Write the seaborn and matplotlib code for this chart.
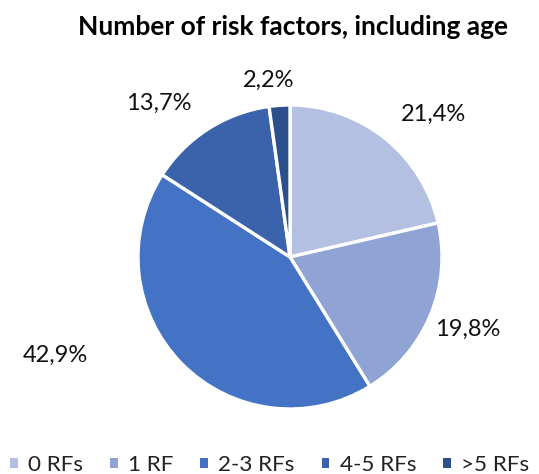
import matplotlib
matplotlib.use("Agg")
import matplotlib.pyplot as plt
import seaborn as sns
import numpy as np
from matplotlib.patches import Patch

categories = ["0 RFs", "1 RF", "2-3 RFs", "4-5 RFs", ">5 RFs"]
values = [21.4, 19.8, 42.9, 13.7, 2.2]
colors = ["#B4C0E2", "#8FA4D4", "#4472C4", "#3A63AC", "#2C4F8E"]
title = "Number of risk factors, including age"

# label placement (angle in degrees, radial distance) as style
label_pos = [(44.8, 1.33), (-22, 1.263), (202.7, 1.67), (130.6, 1.33), (96.8, 1.17)]

sns.set_theme(style="white")
plt.rcParams["font.family"] = ["Lato", "DejaVu Sans"]

W, H = 539, 474
cx, cy, R = 290, 257, 152

fig = plt.figure(figsize=(W / 100, H / 100), dpi=100)
ax = fig.add_axes([(cx - R) / W, (H - cy - R) / H, 2 * R / W, 2 * R / H])

labels = [f"{v:.1f}".replace(".", ",") + "%" for v in values]
wedges, _ = ax.pie(values, colors=colors, startangle=90, counterclock=False,
                   wedgeprops=dict(edgecolor="white", linewidth=2.4))
ax.set_xlim(-1, 1)
ax.set_ylim(-1, 1)
ax.set_aspect("equal")
ax.axis("off")

for lab, (ang, d) in zip(labels, label_pos):
    a = np.deg2rad(ang)
    ax.text(d * np.cos(a), d * np.sin(a), lab, ha="center", va="center",
            fontsize=17, color="#111111", clip_on=False)

fig.text(292.5 / W, 1 - 27 / H, title, ha="center", va="center",
         fontsize=19, fontweight="bold", color="#000000")

handles = [Patch(facecolor=c, edgecolor="none") for c in colors]
fig.legend(handles, categories, loc="center", bbox_to_anchor=(0.5, 1 - 465 / H),
           ncol=5, frameon=False, fontsize=16.2, handlelength=0.35, handleheight=0.35,
           handletextpad=0.45, columnspacing=1.2, labelcolor="#222222",
           borderpad=0, borderaxespad=0)

fig.savefig("out.png", dpi=100)
